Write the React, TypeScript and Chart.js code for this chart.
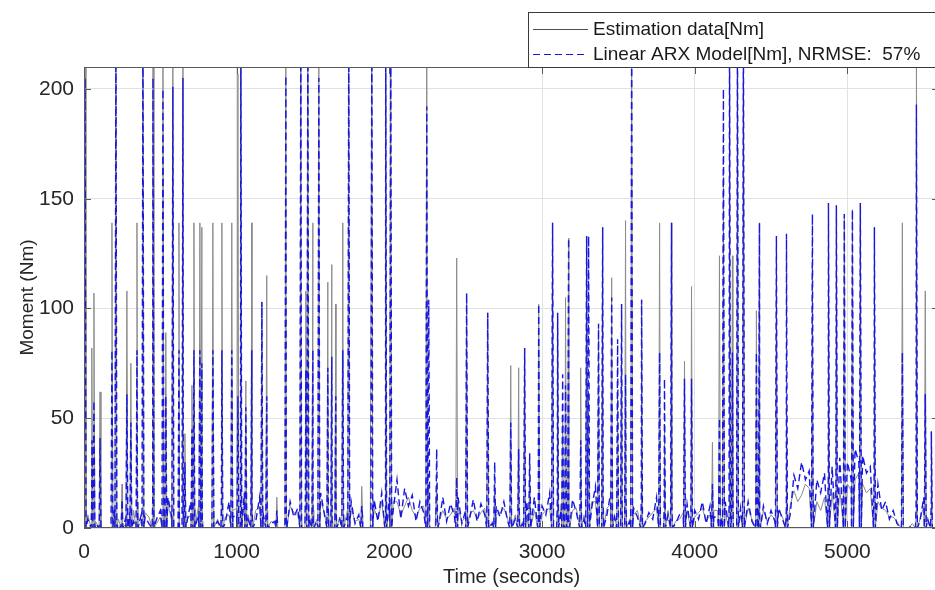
import React, { useEffect, useRef } from "react";
import { Chart, registerables } from "chart.js";

Chart.register(...registerables);

// ---------- axis settings ----------
const X_TICKS = [0, 1000, 2000, 3000, 4000, 5000];
const Y_TICKS = [0, 50, 100, 150, 200];
const X_MAX = 5600;
const Y_MAX = 210;

const X_TITLE = "Time (seconds)";
const Y_TITLE = "Moment (Nm)";
const LABEL_EST = "Estimation data[Nm]";
const LABEL_ARX = "Linear ARX Model[Nm], NRMSE:  57%";

// ---------- low-level (baseline) signal, read every 50 s ----------
const baseTime = [
  0, 50, 100, 150, 200, 250, 300, 350, 400, 450,
  500, 550, 600, 650, 700, 750, 800, 850, 900, 950,
  1000, 1050, 1100, 1150, 1200, 1250, 1300, 1350, 1400, 1450,
  1500, 1550, 1600, 1650, 1700, 1750, 1800, 1850, 1900, 1950,
  2000, 2050, 2100, 2150, 2200, 2250, 2300, 2350, 2400, 2450,
  2500, 2550, 2600, 2650, 2700, 2750, 2800, 2850, 2900, 2950,
  3000, 3050, 3100, 3150, 3200, 3250, 3300, 3350, 3400, 3450,
  3500, 3550, 3600, 3650, 3700, 3750, 3800, 3850, 3900, 3950,
  4000, 4050, 4100, 4150, 4200, 4250, 4300, 4350, 4400, 4450,
  4500, 4550, 4600, 4650, 4700, 4750, 4800, 4850, 4900, 4950,
  5000, 5050, 5100, 5150, 5200, 5250, 5300, 5350, 5400, 5450,
  5500, 5550,
];
const estBase = [
  12, 8, 0, 0, 6, 10, 5, 12, 7, 9,
  5, 11, 0, 8, 6, 10, 0, 7, 12, 6,
  9, 13, 5, 10, 8, 2, 0, 10, 6, 11,
  8, 12, 6, 10, 5, 9, 4, 0, 9, 12,
  8, 12, 10, 8, 9, 0, 0, 8, 6, 9,
  5, 8, 7, 10, 6, 9, 4, 7, 5, 8,
  6, 9, 7, 10, 8, 11, 9, 12, 8, 11,
  7, 9, 6, 8, 5, 9, 6, 10, 4, 8,
  5, 9, 6, 8, 7, 10, 6, 9, 5, 8,
  6, 8, 6, 17, 15, 18, 12, 14, 16, 18,
  20, 22, 20, 18, 12, 8, 5, 0, 0, 6,
  10, 8,
];
const arxBase = [
  14, 10, 2, 0, 9, 13, 7, 15, 5, 12,
  8, 14, 0, 10, 12, 6, 0, 10, 9, 12,
  6, 16, 9, 14, 5, 3, 0, 12, 9, 14,
  5, 16, 10, 13, 8, 12, 6, 0, 13, 16,
  14, 22, 18, 15, 12, 0, 0, 14, 11, 14,
  8, 13, 11, 14, 10, 12, 8, 10, 12, 14,
  10, 16, 12, 17, 13, 18, 14, 19, 12, 16,
  10, 13, 9, 12, 7, 14, 9, 13, 6, 11,
  8, 12, 10, 5, 12, 14, 9, 12, 7, 10,
  8, 9, 8, 24, 30, 26, 22, 25, 28, 32,
  30, 36, 33, 28, 20, 12, 8, 0, 0, 10,
  14, 12,
];

// ---------- in-between samples (25, 75, ... 5525 s) ----------
const midTime = [
  25, 75, 125, 175, 225, 275, 325, 375, 425, 475,
  525, 575, 625, 675, 725, 775, 825, 875, 925, 975,
  1025, 1075, 1125, 1175, 1225, 1275, 1325, 1375, 1425, 1475,
  1525, 1575, 1625, 1675, 1725, 1775, 1825, 1875, 1925, 1975,
  2025, 2075, 2125, 2175, 2225, 2275, 2325, 2375, 2425, 2475,
  2525, 2575, 2625, 2675, 2725, 2775, 2825, 2875, 2925, 2975,
  3025, 3075, 3125, 3175, 3225, 3275, 3325, 3375, 3425, 3475,
  3525, 3575, 3625, 3675, 3725, 3775, 3825, 3875, 3925, 3975,
  4025, 4075, 4125, 4175, 4225, 4275, 4325, 4375, 4425, 4475,
  4525, 4575, 4625, 4675, 4725, 4775, 4825, 4875, 4925, 4975,
  5025, 5075, 5125, 5175, 5225, 5275, 5325, 5375, 5425, 5475,
  5525,
];
const estMid = [
  6, 3, 0, 0, 4, 2, 8, 3, 5, 2,
  7, 3, 0, 4, 9, 3, 0, 4, 5, 8,
  3, 6, 8, 4, 3, 0, 4, 7, 3, 6,
  4, 7, 3, 5, 8, 3, 6, 0, 4, 6,
  12, 6, 14, 5, 10, 0, 3, 4, 9, 3,
  6, 4, 9, 3, 7, 4, 6, 3, 7, 4,
  8, 4, 11, 5, 9, 6, 12, 5, 9, 6,
  10, 4, 8, 3, 7, 4, 8, 3, 7, 4,
  7, 3, 8, 4, 9, 3, 7, 4, 8, 3,
  4, 5, 10, 12, 20, 14, 8, 19, 13, 22,
  17, 25, 16, 22, 9, 5, 3, 0, 2, 4,
  5,
];
const arxMid = [
  4, 2, 0, 0, 2, 5, 3, 6, 2, 4,
  3, 5, 0, 3, 5, 2, 0, 3, 2, 5,
  2, 4, 3, 6, 2, 0, 3, 5, 2, 4,
  3, 6, 2, 4, 5, 2, 4, 0, 3, 5,
  8, 4, 10, 3, 7, 0, 2, 3, 6, 2,
  4, 3, 6, 2, 5, 3, 4, 2, 5, 3,
  6, 3, 8, 4, 7, 4, 9, 4, 6, 5,
  7, 3, 5, 2, 4, 3, 6, 2, 5, 3,
  4, 2, 5, 3, 6, 2, 5, 3, 5, 2,
  3, 4, 6, 18, 22, 20, 16, 24, 20, 26,
  22, 30, 25, 24, 8, 4, 2, 0, 1, 3,
  4,
];

// ---------- spikes (time, measured peak, model peak) ----------
const spikeTime = [
  7, 52, 65, 105, 183, 209, 249, 281, 307, 347,
  386, 452, 517, 536, 582, 622, 648, 661, 707, 720,
  759, 772, 844, 903, 968, 1008, 1027, 1060, 1099, 1165,
  1197, 1263, 1322, 1420, 1453, 1466, 1499, 1538, 1597, 1623,
  1649, 1695, 1734, 1819, 1885, 1976, 2009, 2245, 2258, 2310,
  2441, 2506, 2644, 2690, 2795, 2847, 2886, 2919, 2978, 3069,
  3102, 3135, 3154, 3174, 3253, 3292, 3305, 3370, 3397, 3456,
  3495, 3521, 3547, 3587, 3652, 3770, 3802, 3848, 3933, 3979,
  4116, 4162, 4188, 4228, 4247, 4280, 4319, 4404, 4424, 4535,
  4601, 4771, 4876, 4928, 4980, 5033, 5085, 5177, 5360, 5452,
  5510, 5550,
];
const estPeak = [
  215, 82, 107, 62, 139, 230, 20, 108, 75, 139,
  230, 230, 230, 89, 230, 139, 230, 43, 65, 139,
  139, 137, 139, 139, 139, 207, 230, 67, 139, 103,
  115, 14, 230, 230, 108, 230, 139, 230, 112, 120,
  102, 139, 230, 19, 230, 230, 230, 230, 20, 20,
  123, 107, 98, 20, 74, 73, 82, 25, 102, 139,
  98, 50, 105, 132, 73, 133, 60, 93, 137, 114,
  60, 102, 140, 230, 104, 139, 45, 139, 76, 110,
  39, 124, 160, 230, 124, 230, 230, 99, 139, 110,
  60, 120, 148, 147, 143, 145, 148, 137, 139, 230,
  108, 44,
];
const arxPeak = [
  205, 40, 58, 41, 81, 230, 12, 61, 48, 81,
  230, 205, 200, 60, 201, 81, 205, 30, 45, 81,
  81, 75, 81, 81, 81, 60, 230, 55, 81, 103,
  60, 8, 206, 230, 72, 230, 81, 205, 73, 78,
  60, 81, 230, 10, 230, 230, 230, 192, 104, 36,
  23, 107, 98, 30, 48, 36, 82, 34, 102, 139,
  98, 70, 65, 132, 40, 133, 133, 93, 137, 105,
  86, 102, 70, 230, 104, 80, 68, 139, 68, 68,
  20, 50, 200, 230, 80, 230, 230, 80, 139, 133,
  134, 143, 148, 147, 143, 145, 148, 137, 80, 193,
  61, 44,
];

const SPIKE_HALF = 6; // seconds either side of a spike peak

const EST_COLOR = "#8c8c8c";
const ARX_COLOR = "#1717e0";
const FONT = '"Liberation Sans", Arial, Helvetica, sans-serif';

function buildSeries(base: number[], mid: number[], peaks: number[]) {
  const pts: { x: number; y: number }[] = baseTime.map((t, i) => ({ x: t, y: base[i] }));
  midTime.forEach((t, i) => pts.push({ x: t, y: mid[i] }));
  spikeTime.forEach((t, i) => {
    pts.push({ x: t - SPIKE_HALF, y: 0 });
    pts.push({ x: t, y: peaks[i] });
    pts.push({ x: t + SPIKE_HALF, y: 0 });
  });
  pts.sort((a, b) => a.x - b.x);
  return pts;
}

const framePlugin = {
  id: "matlabFrame",
  afterDatasetsDraw(chart: any) {
    const { ctx, chartArea: a, scales } = chart;
    ctx.save();
    ctx.strokeStyle = "#5a5a5a";
    ctx.lineWidth = 1;
    ctx.setLineDash([]);
    ctx.strokeRect(a.left + 0.5, a.top + 0.5, a.right - a.left - 1, a.bottom - a.top - 1);
    const L = 7;
    ctx.beginPath();
    X_TICKS.forEach((v) => {
      const x = Math.round(scales.x.getPixelForValue(v)) + 0.5;
      ctx.moveTo(x, a.bottom);
      ctx.lineTo(x, a.bottom - L);
      ctx.moveTo(x, a.top);
      ctx.lineTo(x, a.top + L);
    });
    Y_TICKS.forEach((v) => {
      const y = Math.round(scales.y.getPixelForValue(v)) + 0.5;
      ctx.moveTo(a.left, y);
      ctx.lineTo(a.left + L, y);
      ctx.moveTo(a.right, y);
      ctx.lineTo(a.right - L, y);
    });
    ctx.stroke();
    ctx.restore();
  },
};

const legendPlugin = {
  id: "matlabLegend",
  afterDraw(chart: any) {
    const { ctx } = chart;
    const ds = chart.data.datasets;
    const left = 528.5;
    const top = 12.5;
    const w = 420;
    const h = 55;
    ctx.save();
    ctx.fillStyle = "#ffffff";
    ctx.fillRect(left, top, w, h);
    ctx.strokeStyle = "#3a3a3a";
    ctx.lineWidth = 1;
    ctx.strokeRect(left, top, w, h);

    const rows = [
      { y: 29, ds: ds[1] },
      { y: 54, ds: ds[0] },
    ];
    rows.forEach((r) => {
      ctx.beginPath();
      ctx.strokeStyle = r.ds.borderColor === EST_COLOR ? "#505050" : r.ds.borderColor;
      ctx.lineWidth = 1;
      ctx.setLineDash(r.ds.borderDash || []);
      ctx.moveTo(533, r.y + 0.5);
      ctx.lineTo(588, r.y + 0.5);
      ctx.stroke();
      ctx.setLineDash([]);
      ctx.fillStyle = "#1a1a1a";
      ctx.font = `19px ${FONT}`;
      ctx.textBaseline = "middle";
      ctx.textAlign = "left";
      ctx.fillText(r.ds.label, 593, r.y + 1);
    });
    ctx.restore();
  },
};

export default function App() {
  const canvasRef = useRef<HTMLCanvasElement | null>(null);

  useEffect(() => {
    const canvas = canvasRef.current;
    if (!canvas) return;
    const chart = new Chart(canvas, {
      type: "line",
      data: {
        datasets: [
          {
            label: LABEL_ARX,
            data: buildSeries(arxBase, arxMid, arxPeak),
            borderColor: ARX_COLOR,
            borderWidth: 1.4,
            borderDash: [7, 4],
            pointRadius: 0,
            fill: false,
            tension: 0,
            order: 0,
          },
          {
            label: LABEL_EST,
            data: buildSeries(estBase, estMid, estPeak),
            borderColor: EST_COLOR,
            borderWidth: 1,
            pointRadius: 0,
            fill: false,
            tension: 0,
            order: 1,
          },
        ],
      },
      options: {
        animation: false,
        responsive: false,
        maintainAspectRatio: false,
        events: [],
        layout: { padding: { top: 67, right: 0, left: 0, bottom: 0 } },
        plugins: {
          legend: { display: false },
          tooltip: { enabled: false },
        },
        scales: {
          x: {
            type: "linear",
            min: 0,
            max: X_MAX,
            afterBuildTicks: (s: any) => {
              s.ticks = X_TICKS.map((v) => ({ value: v }));
            },
            afterFit: (s: any) => {
              s.height = 62;
            },
            grid: { color: "#e1e1e1", drawTicks: false, lineWidth: 1 },
            border: { display: false },
            ticks: {
              color: "#262626",
              font: { family: FONT, size: 21 },
              padding: 12,
              maxRotation: 0,
              autoSkip: false,
              callback: (v: any) => String(v),
            },
            title: {
              display: true,
              text: X_TITLE,
              color: "#262626",
              font: { family: FONT, size: 20 },
              padding: { top: 0, bottom: 1 },
            },
          },
          y: {
            type: "linear",
            min: 0,
            max: Y_MAX,
            afterBuildTicks: (s: any) => {
              s.ticks = Y_TICKS.map((v) => ({ value: v }));
            },
            afterFit: (s: any) => {
              s.width = 84;
            },
            grid: { color: "#e1e1e1", drawTicks: false, lineWidth: 1 },
            border: { display: false },
            ticks: {
              color: "#262626",
              font: { family: FONT, size: 21 },
              padding: 10,
              autoSkip: false,
              callback: (v: any) => String(v),
            },
            title: {
              display: true,
              text: Y_TITLE,
              color: "#262626",
              font: { family: FONT, size: 19 },
              padding: { top: 16, bottom: 0 },
            },
          },
        },
      },
      plugins: [framePlugin, legendPlugin],
    });
    return () => chart.destroy();
  }, []);

  return (
    <div
      style={{
        position: "fixed",
        left: 0,
        top: 0,
        width: 935,
        height: 590,
        overflow: "hidden",
        background: "#ffffff",
      }}
    >
      <canvas ref={canvasRef} width={939} height={590} style={{ display: "block" }} />
    </div>
  );
}
